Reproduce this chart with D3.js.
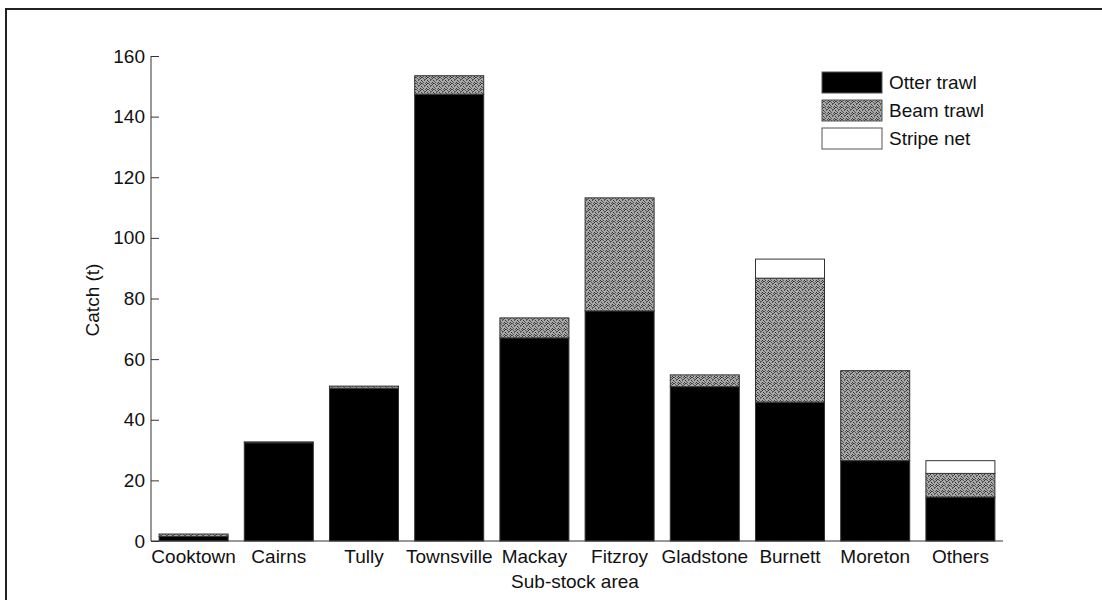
<!DOCTYPE html>
<html><head><meta charset="utf-8">
<script src="https://cdn.jsdelivr.net/npm/d3@7"></script>
<style>body{margin:0;background:#fff}svg{display:block}text{font-family:"Liberation Sans",Arial,sans-serif;fill:#111}</style>
</head><body><svg id="c" width="1102" height="600"></svg>
<script>
const categories = ["Cooktown","Cairns","Tully","Townsville","Mackay","Fitzroy","Gladstone","Burnett","Moreton","Others"];
const otterTrawl = [1.5, 32.4, 50.4, 147.4, 67.0, 75.9, 50.9, 45.8, 26.5, 14.5];
const beamTrawl  = [0.8, 0.3, 0.7, 6.1, 6.6, 37.3, 3.9, 40.9, 29.7, 7.8];
const stripeNet  = [0, 0, 0, 0, 0, 0, 0, 6.3, 0, 4.2];
const seriesNames = ["Otter trawl","Beam trawl","Stripe net"];
const yTicks = [0,20,40,60,80,100,120,140,160];

const svg = d3.select("#c");
const mLeft = 151, mRight = 1003, mTop = 56, mBottom = 541;
const FS = 19;

// stippled gray pattern
const defs = svg.append("defs");
const pat = defs.append("pattern").attr("id","stip").attr("width",6).attr("height",6).attr("patternUnits","userSpaceOnUse");
pat.append("rect").attr("width",6).attr("height",6).attr("fill","#a8a8a8");
const dots = [[0,0],[3,0],[5,1],[1,2],[4,2],[2,3],[0,4],[3,4],[5,5],[1,5],[4,1],[2,5]];
dots.forEach(([dx,dy],k)=>pat.append("rect").attr("x",dx).attr("y",dy).attr("width",1).attr("height",1).attr("fill",k%3?"#555":"#333"));
const fills = ["#000000","url(#stip)","#ffffff"];

// outer frame (left and top edges)
svg.append("path").attr("d","M6,600 L6,9 L1102,9").attr("fill","none").attr("stroke","#222").attr("stroke-width",2);

const x = d3.scaleBand().domain(categories).range([mLeft,mRight]).paddingInner(0.19).paddingOuter(0.095);
const y = d3.scaleLinear().domain([0,160]).range([mBottom,mTop]);

const table = categories.map((c,i)=>({cat:c, "Otter trawl":otterTrawl[i], "Beam trawl":beamTrawl[i], "Stripe net":stripeNet[i]}));
const stack = d3.stack().keys(seriesNames)(table);

stack.forEach((layer,li)=>{
  svg.append("g").selectAll("rect").data(layer.filter(d=>d[1]-d[0]>0)).join("rect")
    .attr("x",d=>x(d.data.cat)).attr("width",x.bandwidth())
    .attr("y",d=>y(d[1])).attr("height",d=>y(d[0])-y(d[1]))
    .attr("fill",fills[li]).attr("stroke","#333").attr("stroke-width",1);
});

// y axis
const ya = svg.append("g").attr("transform",`translate(${mLeft},0)`)
  .call(d3.axisRight(y).tickValues(yTicks).tickSize(8).tickFormat(d3.format("d")));
ya.select(".domain").attr("d",`M0,${mTop}V${mBottom}`).attr("stroke","#333");
ya.selectAll(".tick line").attr("stroke","#333");
ya.selectAll(".tick text").attr("x",-6).attr("text-anchor","end").attr("font-size",FS).attr("font-family","Liberation Sans, Arial, sans-serif").attr("fill","#111");

// x axis
const xa = svg.append("g").attr("transform",`translate(0,${mBottom})`)
  .call(d3.axisBottom(x).tickSize(0));
xa.select(".domain").attr("d",`M${mLeft},0H${mRight}`).attr("stroke","#333");
xa.selectAll(".tick text").attr("y",9).attr("font-size",FS).attr("font-family","Liberation Sans, Arial, sans-serif").attr("fill","#111");

svg.append("text").attr("x",575).attr("y",588).attr("text-anchor","middle").attr("font-size",FS).text("Sub-stock area");
svg.append("text").attr("transform","translate(99,300) rotate(-90)").attr("text-anchor","middle").attr("font-size",FS).text("Catch (t)");

// legend
const lg = svg.append("g").attr("transform","translate(822,72)");
seriesNames.forEach((n,i)=>{
  lg.append("rect").attr("x",0).attr("y",i*28).attr("width",60).attr("height",21)
    .attr("fill",fills[i]).attr("stroke","#555").attr("stroke-width",1);
  lg.append("text").attr("x",67).attr("y",i*28+17).attr("font-size",FS).text(n);
});
</script></body></html>
